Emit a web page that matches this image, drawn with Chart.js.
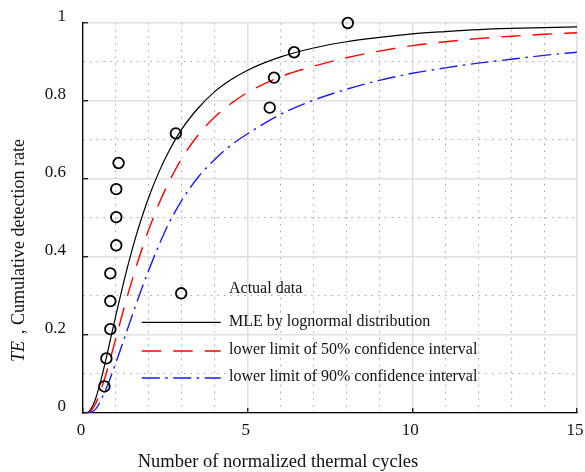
<!DOCTYPE html>
<html><head><meta charset="utf-8">
<script src="https://cdn.jsdelivr.net/npm/chart.js@4/dist/chart.umd.min.js"></script>
<style>html,body{margin:0;padding:0;background:#fff;}canvas{display:block;}</style>
</head><body>
<canvas id="c" width="585" height="472"></canvas>
<script>
// ---- data ----
const cycleGrid   = [0.1, 0.2, 0.3, 0.4, 0.5, 0.6, 0.7, 0.8, 0.9, 1.0, 1.2, 1.4, 1.6, 1.8, 2.0, 2.3, 2.6, 3.0, 3.5, 4.0, 4.5, 5, 6, 7, 8, 9, 10, 11, 12, 13, 14, 15];
const mleRate     = [0.0004, 0.0055, 0.019, 0.041, 0.070, 0.103, 0.139, 0.176, 0.214, 0.251, 0.323, 0.390, 0.451, 0.505, 0.554, 0.617, 0.670, 0.728, 0.782, 0.824, 0.855, 0.879, 0.913, 0.936, 0.952, 0.963, 0.972, 0.978, 0.983, 0.986, 0.988, 0.990];
const lower50Rate = [0.0, 0.003, 0.012, 0.027, 0.048, 0.073, 0.100, 0.130, 0.161, 0.192, 0.255, 0.315, 0.371, 0.423, 0.471, 0.535, 0.591, 0.653, 0.713, 0.759, 0.794, 0.822, 0.862, 0.889, 0.911, 0.928, 0.942, 0.952, 0.960, 0.966, 0.971, 0.975];
const lower90Rate = [0.0, 0.0005, 0.004, 0.012, 0.025, 0.043, 0.062, 0.083, 0.106, 0.129, 0.178, 0.227, 0.276, 0.323, 0.367, 0.429, 0.485, 0.545, 0.605, 0.650, 0.687, 0.716, 0.766, 0.802, 0.830, 0.853, 0.871, 0.885, 0.897, 0.907, 0.917, 0.925];
const actualCycles = [0.65, 0.71, 0.83, 0.83, 0.83, 1.01, 1.01, 1.01, 1.08, 2.82, 5.67, 5.80, 6.41, 8.04];
const actualRate   = [0.068, 0.140, 0.215, 0.287, 0.358, 0.430, 0.502, 0.574, 0.641, 0.717, 0.783, 0.860, 0.925, 1.000];
const seriesLabels = ['Actual data', 'MLE by lognormal distribution', 'lower limit of 50% confidence interval', 'lower limit of 90% confidence interval'];
const xTickLabels = ['0', '5', '10', '15'];
const yTickLabels = ['0', '0.2', '0.4', '0.6', '0.8', '1'];
const xTitle = 'Number of normalized thermal cycles';
const yTitleItalic = 'TE';
const yTitleRest = ', Cumulative detection rate';

const SERIF = "'Liberation Serif', 'Times New Roman', serif";
const pts = (xs, ys) => xs.map((x, i) => ({x: x, y: ys[i]}));
const isMajorX = v => Math.abs(v / 5 - Math.round(v / 5)) < 1e-6;
const isMajorY = v => Math.abs(v * 5 - Math.round(v * 5)) < 1e-6;

const styles = [
  {color: '#000000', dash: []},
  {color: '#ff0000', dash: [19.5, 12]},
  {color: '#1a1aff', dash: [18, 5.5, 2.5, 5.5]}
];

const overlay = {
  id: 'overlay',
  afterDraw(chart) {
    const ctx = chart.ctx, ca = chart.chartArea;
    ctx.save();
    // legend
    const lx1 = ca.left + 58.7, lx2 = ca.left + 137.7, tx = ca.left + 146;
    const rowsLine = [ca.top + 270.3, ca.top + 299.3, ca.top + 328, ca.top + 355];
    const rowsText = [ca.top + 265.3, ca.top + 298.7, ca.top + 326.3, ca.top + 353.7];
    Chart.helpers.drawPoint(ctx, {pointStyle: 'circle', radius: 5.3, borderWidth: 1.8, rotation: 0},
      (lx1 + lx2) / 2, rowsLine[0]);
    for (let i = 0; i < 3; i++) {
      ctx.beginPath();
      ctx.setLineDash(styles[i].dash);
      ctx.strokeStyle = styles[i].color;
      ctx.lineWidth = i === 0 ? 1.2 : 1.4;
      ctx.moveTo(lx1, rowsLine[i + 1]);
      ctx.lineTo(lx2, rowsLine[i + 1]);
      ctx.stroke();
    }
    ctx.setLineDash([]);
    ctx.fillStyle = '#111';
    ctx.font = '16px ' + SERIF;
    ctx.textAlign = 'left';
    ctx.textBaseline = 'middle';
    for (let i = 0; i < 4; i++) ctx.fillText(seriesLabels[i], tx, rowsText[i]);
    // x title
    ctx.font = '18.5px ' + SERIF;
    ctx.textAlign = 'center';
    ctx.textBaseline = 'alphabetic';
    ctx.fillText(xTitle, 278, 466.5);
    // y title
    ctx.translate(23.5, 362);
    ctx.rotate(-Math.PI / 2);
    ctx.textAlign = 'left';
    ctx.font = 'italic 18px ' + SERIF;
    ctx.fillText(yTitleItalic, 0, 0);
    ctx.font = '18px ' + SERIF;
    ctx.fillText(yTitleRest, 28, 0);
    ctx.restore();
  }
};

const zeroPad = s => { s.paddingLeft = 0; s.paddingRight = 0; s.paddingTop = 0; s.paddingBottom = 0; };

new Chart(document.getElementById('c'), {
  type: 'line',
  data: {
    datasets: [
      {label: seriesLabels[0], type: 'scatter', data: pts(actualCycles, actualRate), showLine: false,
       pointRadius: 5.3, pointHoverRadius: 5.3, pointBorderWidth: 1.8, pointBorderColor: '#000',
       pointBackgroundColor: 'rgba(0,0,0,0)', clip: false, order: 0},
      {label: seriesLabels[1], data: pts(cycleGrid, mleRate), borderColor: styles[0].color, borderWidth: 1.2,
       borderDash: styles[0].dash, pointRadius: 0, cubicInterpolationMode: 'monotone', fill: false, order: 3},
      {label: seriesLabels[2], data: pts(cycleGrid, lower50Rate), borderColor: styles[1].color, borderWidth: 1.4,
       borderDash: styles[1].dash, pointRadius: 0, cubicInterpolationMode: 'monotone', fill: false, order: 2},
      {label: seriesLabels[3], data: pts(cycleGrid, lower90Rate), borderColor: styles[2].color, borderWidth: 1.4,
       borderDash: styles[2].dash, pointRadius: 0, cubicInterpolationMode: 'monotone', fill: false, order: 1}
    ]
  },
  options: {
    responsive: false,
    animation: false,
    devicePixelRatio: 1,
    layout: {padding: {left: 0, right: 8, top: 23, bottom: 0}},
    plugins: {legend: {display: false}, tooltip: {enabled: false}},
    scales: {
      x: {
        type: 'linear', position: 'bottom', min: 0, max: 15,
        afterFit: s => { s.height = 59; zeroPad(s); },
        ticks: {stepSize: 1, autoSkip: false, maxRotation: 0, padding: 12.5, labelOffset: -2,
          color: '#111', font: {family: SERIF, size: 17},
          callback: v => isMajorX(v) ? xTickLabels[Math.round(v / 5)] : ''},
        grid: {
          color: c => (c.tick && !isMajorX(c.tick.value)) ? '#ababab' : '#e0e0e0',
          lineWidth: c => (c.tick && !isMajorX(c.tick.value)) ? 1.1 : 1.5,
          tickLength: -5,
          tickWidth: 1.2,
          tickColor: c => (c.tick && isMajorX(c.tick.value)) ? '#000' : 'rgba(0,0,0,0)'
        },
        border: {display: true, color: '#000', width: 1.3,
          dash: c => (c.tick && !isMajorX(c.tick.value)) ? [1.6, 5.1] : []}
      },
      y: {
        type: 'linear', position: 'left', min: 0, max: 1,
        afterFit: s => { s.width = 83; zeroPad(s); },
        ticks: {stepSize: 0.1, autoSkip: false, padding: 22, labelOffset: -6,
          color: '#111', font: {family: SERIF, size: 17},
          callback: v => isMajorY(v) ? yTickLabels[Math.round(v * 5)] : ''},
        grid: {
          color: c => (c.tick && !isMajorY(c.tick.value)) ? '#ababab' : '#e0e0e0',
          lineWidth: c => (c.tick && !isMajorY(c.tick.value)) ? 1.1 : 1.5,
          tickLength: -5,
          tickWidth: 1.2,
          tickColor: c => (c.tick && isMajorY(c.tick.value)) ? '#000' : 'rgba(0,0,0,0)'
        },
        border: {display: true, color: '#000', width: 1.3,
          dash: c => (c.tick && !isMajorY(c.tick.value)) ? [1.6, 5.1] : []}
      }
    }
  },
  plugins: [overlay]
});
</script>
</body></html>
